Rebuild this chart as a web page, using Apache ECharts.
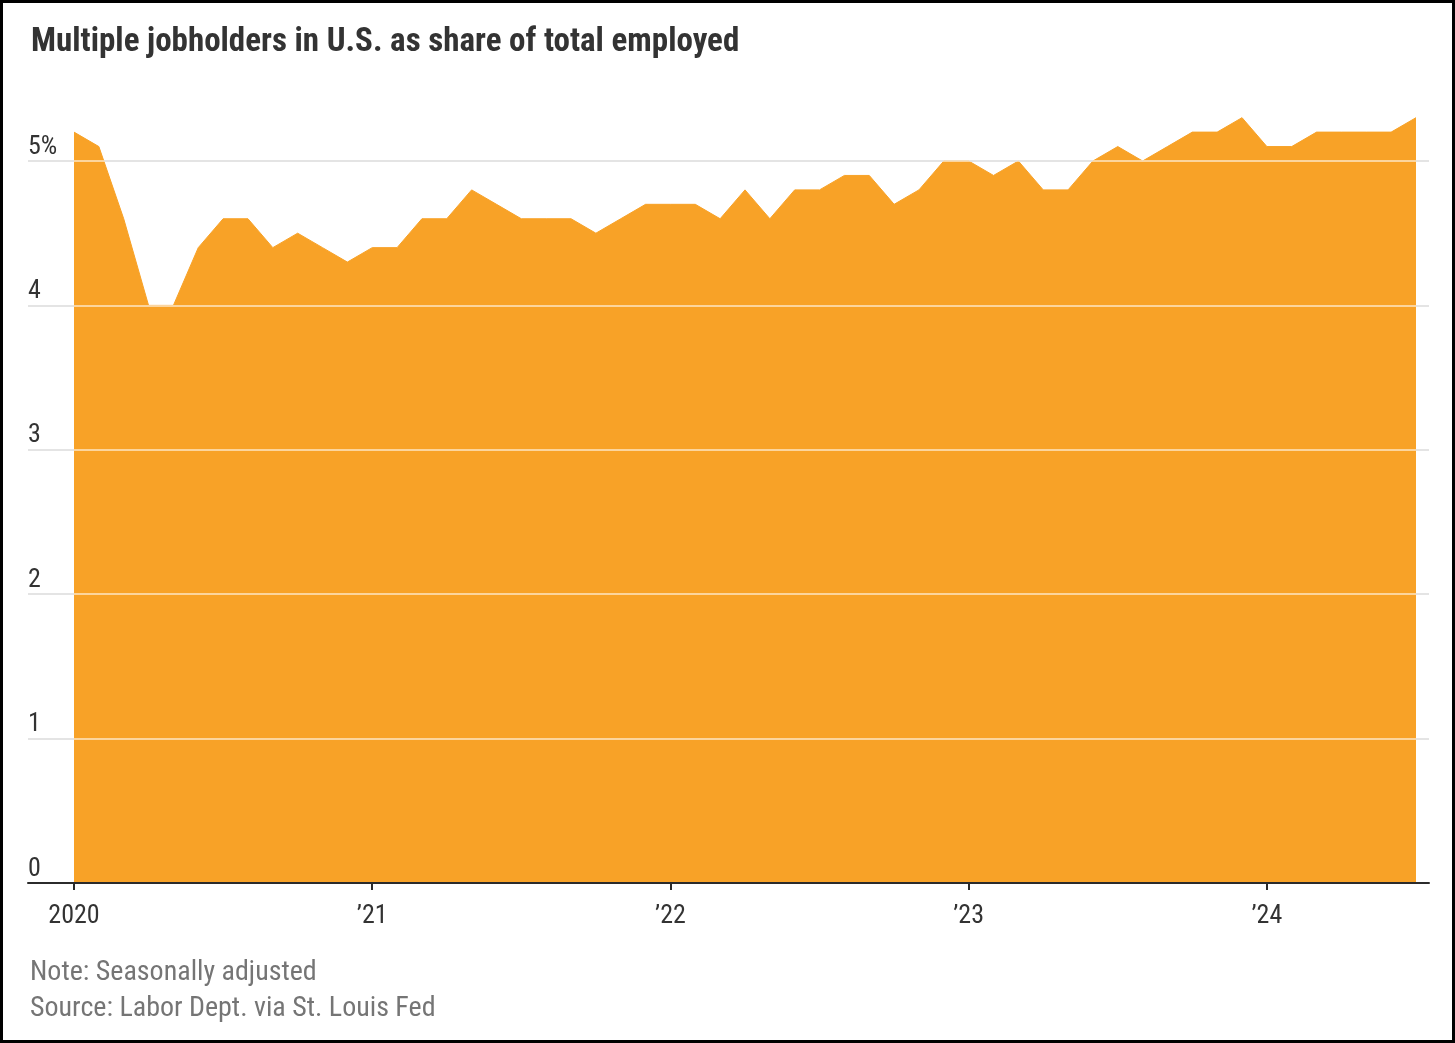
<!DOCTYPE html>
<html>
<head>
<meta charset="utf-8">
<script src="https://cdn.jsdelivr.net/npm/echarts@6/dist/echarts.min.js"></script>
<style>
  html, body { margin: 0; padding: 0; background: #fff; }
  #chart { width: 1455px; height: 1043px; }
  #frame { position: absolute; left: 0; top: 0; width: 1455px; height: 1043px; box-sizing: border-box; border: 3px solid #000; pointer-events: none; }
</style>
</head>
<body>
<div id="chart"></div>
<div id="frame"></div>
<script>
// monthly, Jan 2020 .. Jul 2024
const months = [
  "2020-01","2020-02","2020-03","2020-04","2020-05","2020-06","2020-07","2020-08","2020-09","2020-10","2020-11","2020-12",
  "2021-01","2021-02","2021-03","2021-04","2021-05","2021-06","2021-07","2021-08","2021-09","2021-10","2021-11","2021-12",
  "2022-01","2022-02","2022-03","2022-04","2022-05","2022-06","2022-07","2022-08","2022-09","2022-10","2022-11","2022-12",
  "2023-01","2023-02","2023-03","2023-04","2023-05","2023-06","2023-07","2023-08","2023-09","2023-10","2023-11","2023-12",
  "2024-01","2024-02","2024-03","2024-04","2024-05","2024-06","2024-07"
];
const shareValues = [
  5.2, 5.1, 4.6, 4.0, 4.0, 4.4, 4.6, 4.6, 4.4, 4.5, 4.4, 4.3,
  4.4, 4.4, 4.6, 4.6, 4.8, 4.7, 4.6, 4.6, 4.6, 4.5, 4.6, 4.7,
  4.7, 4.7, 4.6, 4.8, 4.6, 4.8, 4.8, 4.9, 4.9, 4.7, 4.8, 5.0,
  5.0, 4.9, 5.0, 4.8, 4.8, 5.0, 5.1, 5.0, 5.1, 5.2, 5.2, 5.3,
  5.1, 5.1, 5.2, 5.2, 5.2, 5.2, 5.3
];
const xTickMonths = ["2020-01", "2021-01", "2022-01", "2023-01", "2024-01"];
const xTickLabels = ["2020", "\u201921", "\u201922", "\u201923", "\u201924"];
const yTickLabels = ["0", "1", "2", "3", "4", "5%"];

const FONT = "'Liberation Sans Narrow', 'Roboto Condensed', 'Liberation Sans', sans-serif";
const TEXT_DARK = "#333333";
const AREA_COLOR = "#f8a227";

const chart = echarts.init(document.getElementById("chart"));

const seriesData = shareValues.map((v, i) => [i, v]);
const xTickIdx = xTickMonths.map((m) => months.indexOf(m));

// x axis line runs past the first/last month (gridlines too)
const pxPerMonth = (1416 - 74) / (months.length - 1);
const xMin = -(74 - 28) / pxPerMonth;
const xMax = months.length - 1 + (1429 - 1416) / pxPerMonth;

const yBase = {
  type: "value",
  min: 0,
  max: 5,
  interval: 1,
  axisLine: { show: false },
  axisTick: { show: false },
};

const option = {
  animation: false,
  backgroundColor: "#ffffff",
  title: {
    text: "Multiple jobholders in U.S. as share of total employed",
    left: 26,
    top: 21,
    textStyle: { fontFamily: FONT, fontSize: 33, fontWeight: "bold", color: TEXT_DARK },
  },
  grid: { left: 28, right: 26, top: 161, bottom: 160 },
  xAxis: {
    type: "value",
    min: xMin,
    max: xMax,
    z: 5,
    splitLine: { show: false },
    axisLine: { show: true, onZero: false, lineStyle: { color: "#2b2b2b", width: 2 } },
    axisTick: {
      show: true,
      customValues: xTickIdx,
      length: 7,
      lineStyle: { color: "#2b2b2b", width: 2 },
    },
    axisLabel: {
      customValues: xTickIdx,
      margin: 20,
      fontFamily: FONT,
      fontSize: 26,
      color: TEXT_DARK,
      formatter: (v) => xTickLabels[xTickIdx.indexOf(Math.round(v))] || "",
    },
  },
  yAxis: [
    {
      ...yBase,
      z: 0,
      splitLine: { lineStyle: { color: "#c4c4c4", width: 2 } },
      axisLabel: {
        inside: true,
        margin: 0,
        align: "left",
        verticalAlign: "bottom",
        padding: [0, 0, 1, 0],
        fontFamily: FONT,
        fontSize: 26,
        color: TEXT_DARK,
        formatter: (v) => yTickLabels[Math.round(v)],
      },
    },
    {
      ...yBase,
      z: 3,
      splitLine: { lineStyle: { color: "rgba(255,255,255,0.55)", width: 2 } },
      axisLabel: { show: false },
    },
  ],
  series: [
    {
      type: "line",
      data: seriesData,
      clip: false,
      symbol: "none",
      z: 2,
      lineStyle: { color: AREA_COLOR, width: 1 },
      areaStyle: { color: AREA_COLOR, opacity: 1 },
    },
  ],
  graphic: [
    {
      type: "text",
      left: 30,
      top: 959,
      style: { text: "Note: Seasonally adjusted", font: "28px " + FONT, fill: "#757575" },
    },
    {
      type: "text",
      left: 30,
      top: 995,
      style: { text: "Source: Labor Dept. via St. Louis Fed", font: "28px " + FONT, fill: "#757575" },
    },
  ],
};

chart.setOption(option);
</script>
</body>
</html>
